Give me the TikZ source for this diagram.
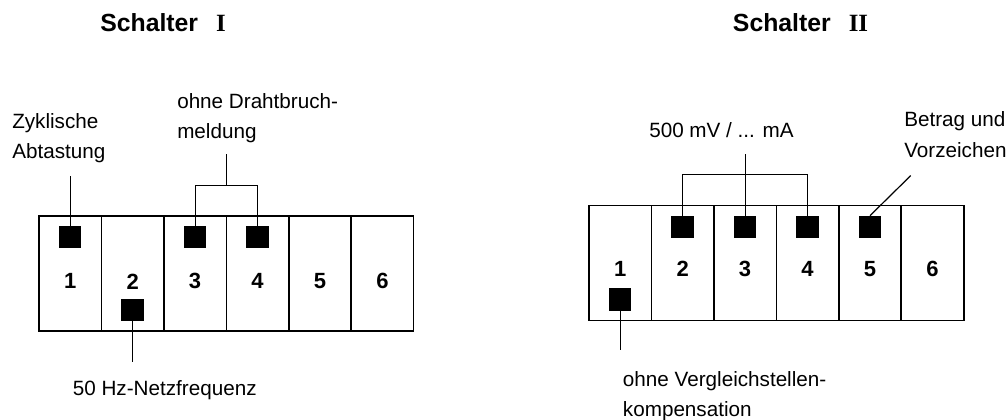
\documentclass[tikz,border=0pt]{standalone}
\usepackage{fontspec}
\setmainfont{Liberation Sans}
\newfontfamily\romnum{Liberation Serif}
\usepackage{xcolor}
\definecolor{cInk}{HTML}{000000}
\usetikzlibrary{positioning,calc}
\tikzset{
  cell-box/.style={draw=cInk,line width=1.2pt,minimum width=46.84pt,
    minimum height=86.25pt,inner sep=0pt,outer sep=0pt},
  cell-num/.style={font=\fontsize{16.5}{18}\selectfont\bfseries,inner sep=0pt},
  num-I/.style={cell-num,yshift=-6.1pt},
  num-II/.style={cell-num,yshift=-4.7pt},
  knob/.style={fill=cInk,minimum size=16.8pt,inner sep=0pt,outer sep=0pt},
  lead/.style={draw=cInk,line width=0.9pt},
  note-text/.style={font=\fontsize{15.5}{23}\selectfont,align=left,
    inner sep=0pt,anchor=north west},
  head-text/.style={font=\fontsize{18.6}{22}\selectfont\bfseries,
    inner sep=0pt,anchor=base west},
}

\begin{document}
\begin{tikzpicture}[x=0.75pt,y=-0.75pt]
  \useasboundingbox (0,0) rectangle (1008,419);
  % Schalter I
  \node[head-text] (titleI) at (100,31.7) {Schalter\hspace{13.5pt}{\romnum I}};
  \node[cell-box,label={[num-I]center:1}] (left1) at (70.2,273.2) {};
  \node[cell-box,label={[num-I]center:2},right=0pt of left1] (left2) {};
  \node[cell-box,label={[num-I]center:3},right=0pt of left2] (left3) {};
  \node[cell-box,label={[num-I]center:4},right=0pt of left3] (left4) {};
  \node[cell-box,label={[num-I]center:5},right=0pt of left4] (left5) {};
  \node[cell-box,label={[num-I]center:6},right=0pt of left5] (left6) {};
  \node[knob,below=7.6pt of left1.north] (knobL1) {};
  \node[knob,below=7.6pt of left3.north] (knobL3) {};
  \node[knob,below=7.6pt of left4.north] (knobL4) {};
  \node[knob,above=7.3pt of left2.south] (knobL2) {};
  \coordinate[above=37.7pt of knobL1.north] (zyklEnd);
  \coordinate (joinL) at ($(knobL3.north)!0.5!(knobL4.north)+(0,30.5pt)$);
  \coordinate[above=23.5pt of joinL] (drahtEnd);
  \coordinate[below=30.5pt of knobL2.south] (netzEnd);
  \draw[lead] (knobL1.north) -- (zyklEnd);
  \draw[lead] (knobL3.north) |- (joinL) -| (knobL4.north);
  \draw[lead] (joinL) -- (drahtEnd);
  \draw[lead] (knobL2.south) -- (netzEnd);
  \node[note-text] (zyklText) at (12,113) {Zyklische\\Abtastung};
  \node[note-text] (drahtText) at (177,93) {ohne Drahtbruch-\\meldung};
  \node[note-text] (netzText) at (72.6,380) {50 Hz-Netzfrequenz};

  % Schalter II
  \node[head-text] (titleII) at (732.7,31.7) {Schalter\hspace{13.5pt}{\romnum II}};
  \node[cell-box,label={[num-II]center:1}] (right1) at (620.2,263) {};
  \node[cell-box,label={[num-II]center:2},right=0pt of right1] (right2) {};
  \node[cell-box,label={[num-II]center:3},right=0pt of right2] (right3) {};
  \node[cell-box,label={[num-II]center:4},right=0pt of right3] (right4) {};
  \node[cell-box,label={[num-II]center:5},right=0pt of right4] (right5) {};
  \node[cell-box,label={[num-II]center:6},right=0pt of right5] (right6) {};
  \node[knob,below=7.6pt of right2.north] (knobR2) {};
  \node[knob,below=7.6pt of right3.north] (knobR3) {};
  \node[knob,below=7.6pt of right4.north] (knobR4) {};
  \node[knob,below=7.6pt of right5.north] (knobR5) {};
  \node[knob,above=7.3pt of right1.south] (knobR1) {};
  \coordinate[above=30.75pt of knobR3.north] (joinR);
  \coordinate[above=46pt of knobR3.north] (mvEnd);
  \coordinate[above right=30pt and 30.5pt of knobR5.north] (betragEnd);
  \coordinate[below=29.5pt of knobR1.south] (vglEnd);
  \draw[lead] (knobR2.north) |- (joinR) -| (knobR4.north);
  \draw[lead] (knobR3.north) -- (mvEnd);
  \draw[lead] (knobR5.north) -- (betragEnd);
  \draw[lead] (knobR1.south) -- (vglEnd);
  \node[note-text] (mvText) at (649,122.7) {500 mV / ... mA};
  \node[note-text] (betragText) at (904,111.7) {Betrag und\\Vorzeichen};
  \node[note-text] (vglText) at (622.7,371) {ohne Vergleichstellen-\\kompensation};
\end{tikzpicture}
\end{document}
